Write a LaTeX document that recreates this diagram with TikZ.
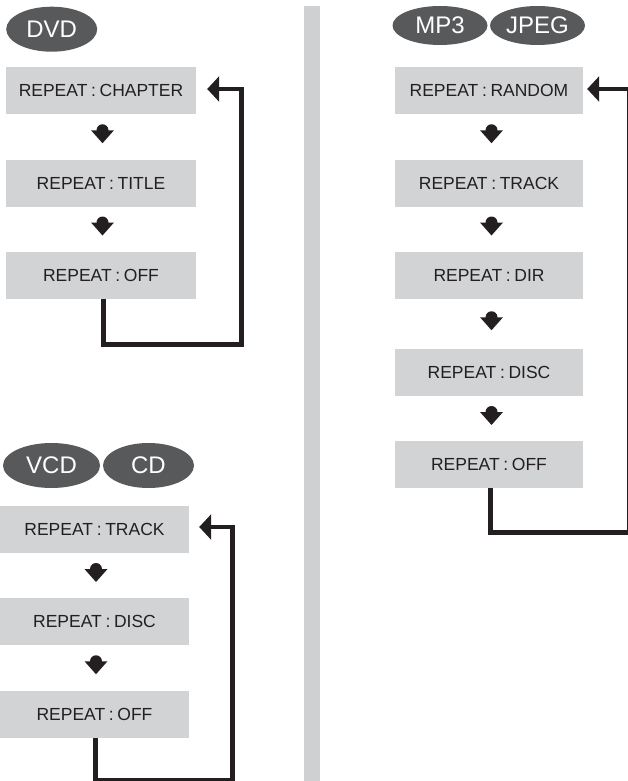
\documentclass[tikz,border=0pt]{standalone}
\usepackage{fontspec}
\setmainfont{Liberation Sans}
\newfontfamily\boxfont[WordSpace=0.75]{Liberation Sans}
\usetikzlibrary{arrows.meta,calc,shapes.geometric}
\definecolor{boxgray}{HTML}{D1D3D4}
\definecolor{ovalgray}{HTML}{58595B}
\definecolor{sepgray}{HTML}{CFD0D2}
\definecolor{ink}{HTML}{231F20}
\tikzset{
  modebox/.style={fill=boxgray, minimum height=47pt, inner sep=0pt, text=ink,
    font=\boxfont\fontsize{17.5}{19}\selectfont},
  oval/.style={ellipse, fill=ovalgray, text=white, inner sep=0pt,
    font=\fontsize{24}{26}\selectfont},
  loopline/.style={draw=ink, line width=4.5pt, -{Triangle[length=12pt,width=25pt]}},
  downarr/.pic={
    \fill[ink] (0,-6.5) circle[radius=6];
    \fill[ink] (-11.5,-6.5) -- (11.5,-6.5) -- (0,6.5) -- cycle;
  }
}
\begin{document}
\begin{tikzpicture}[x=1pt,y=-1pt]
\useasboundingbox (0,0) rectangle (628,781);
% separator
\fill[sepgray] (304,6) rectangle (320,790);

% ---------- DVD ----------
\node[oval, minimum width=91pt, minimum height=45pt] (dvd) at (51.7,29.2) {DVD};
\node[modebox, minimum width=190pt] (d1) at (101,90.5) {REPEAT : CHAPTER};
\node[modebox, minimum width=190pt] (d2) at (101,183) {REPEAT : TITLE};
\node[modebox, minimum width=190pt] (d3) at (101,275) {REPEAT : OFF};
\pic at ($(d1.south)!0.5!(d2.north)+(1.5,0)$) {downarr};
\pic at ($(d2.south)!0.5!(d3.north)+(1.5,0)$) {downarr};
\coordinate (dturn) at (241.5,344.5);
\draw[loopline] ([xshift=2.5pt]d3.south) |- (dturn) |- ([shift={(11,-1.5)}]d1.east);

% ---------- MP3 / JPEG ----------
\node[oval, minimum width=95pt, minimum height=39pt] (mp3) at (440,25.5) {MP3};
\node[oval, minimum width=95pt, minimum height=39pt] (jpeg) at (537.5,25.5) {JPEG};
\node[modebox, minimum width=188pt] (r1) at (489,90.5) {REPEAT : RANDOM};
\node[modebox, minimum width=188pt] (r2) at (489,183) {REPEAT : TRACK};
\node[modebox, minimum width=188pt] (r3) at (489,275) {REPEAT : DIR};
\node[modebox, minimum width=188pt] (r4) at (489,372.5) {REPEAT : DISC};
\node[modebox, minimum width=188pt] (r5) at (489,464.5) {REPEAT : OFF};
\pic at ($(r1.south)!0.5!(r2.north)+(2.5,0)$) {downarr};
\pic at ($(r2.south)!0.5!(r3.north)+(2.5,0)$) {downarr};
\pic at ($(r3.south)!0.5!(r4.north)+(2.5,0)$) {downarr};
\pic at ($(r4.south)!0.5!(r5.north)+(2.5,0)$) {downarr};
\coordinate (rturn) at (629.5,532.5);
\draw[loopline] ([xshift=1.5pt]r5.south) |- (rturn) |- ([shift={(4,-1.5)}]r1.east);

% ---------- VCD / CD ----------
\node[oval, minimum width=97pt, minimum height=45pt] (vcd) at (51.5,465.5) {VCD};
\node[oval, minimum width=91pt, minimum height=45pt] (cd) at (148.5,465.5) {CD};
\node[modebox, minimum width=189pt] (b1) at (94.5,529.5) {REPEAT : TRACK};
\node[modebox, minimum width=189pt] (b2) at (94.5,621.5) {REPEAT : DISC};
\node[modebox, minimum width=189pt] (b3) at (94.5,714) {REPEAT : OFF};
\pic at ($(b1.south)!0.5!(b2.north)+(1.5,0)$) {downarr};
\pic at ($(b2.south)!0.5!(b3.north)+(1.5,0)$) {downarr};
\coordinate (bturn) at (232.5,780);
\draw[loopline] ([xshift=1pt]b3.south) |- (bturn) |- ([shift={(10,-2.5)}]b1.east);
\end{tikzpicture}
\end{document}
